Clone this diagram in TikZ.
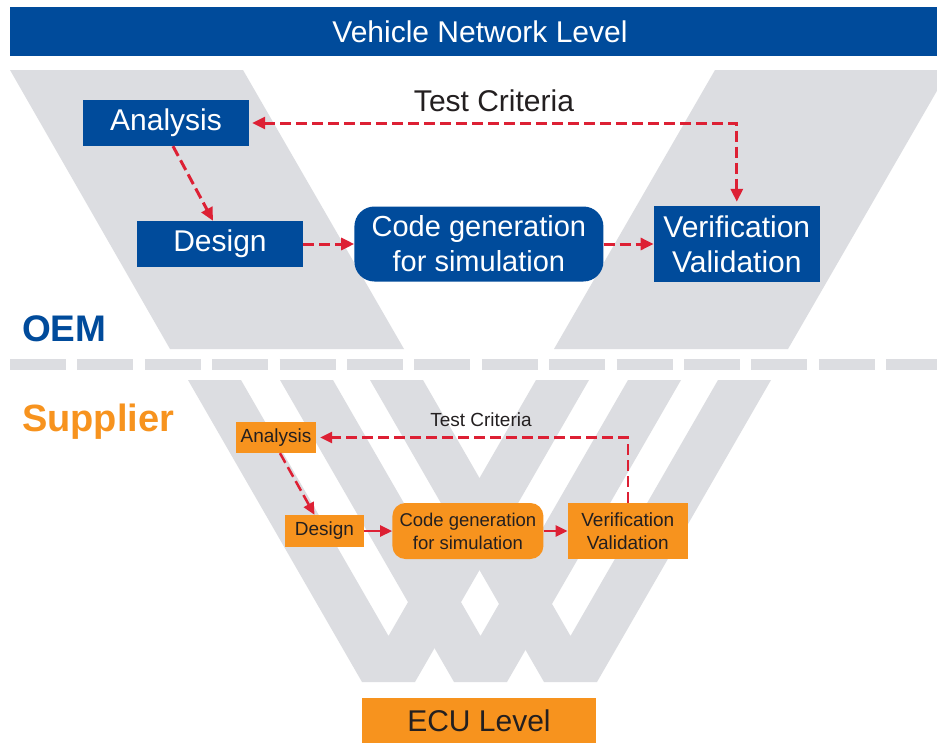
\documentclass[tikz,border=0pt]{standalone}
\usepackage{fontspec}
\setmainfont{Liberation Sans}
\usetikzlibrary{positioning,arrows.meta}
\definecolor{oemblue}{RGB}{0,75,155}
\definecolor{suporange}{RGB}{247,147,30}
\definecolor{vgrey}{RGB}{220,221,225}
\definecolor{linkred}{RGB}{221,32,52}
\definecolor{darktext}{RGB}{35,31,32}

\begin{document}
\begin{tikzpicture}[x=1pt, y=-1pt]
    % Define styles
    \tikzstyle{oembox} = [rectangle, minimum width=166pt, minimum height=46pt, inner sep=0pt, align=center, fill=oemblue, text=white, font=\fontsize{30}{35}\selectfont]
    \tikzstyle{oemround} = [oembox, rounded corners=20pt, minimum width=249pt, minimum height=75pt, font=\fontsize{29}{35}\selectfont]
    \tikzstyle{supbox} = [rectangle, inner sep=0pt, align=center, fill=suporange, text=darktext, font=\fontsize{19}{23}\selectfont]
    \tikzstyle{supround} = [supbox, rounded corners=13pt, font=\fontsize{18.5}{23}\selectfont]
    \tikzstyle{dasharrow} = [draw=linkred, line width=3pt, dash pattern=on 11pt off 5pt, ->, >={Triangle[length=13pt, width=12pt]}]
    \tikzstyle{supdash} = [dasharrow, line width=2.5pt, >={Triangle[length=12pt, width=11pt]}]
    \tikzstyle{suparrow} = [draw=linkred, line width=2.5pt, ->, >={Triangle[length=12pt, width=11pt]}]

    \useasboundingbox [fill=white] (0,0) rectangle (937,744);

    % Grey V shapes
    \fill [vgrey] (10,70) -- (243,70) -- (404,349) -- (170,349) -- cycle;
    \fill [vgrey] (715,70) -- (949,70) -- (788,349) -- (554,349) -- cycle;
    \draw [vgrey, line width=11pt, dash pattern=on 56pt off 11.4pt] (10,364.5) -- (950,364.5);
    \fill [vgrey] (188,380) -- (241,380) -- (388.5,636) -- (536,380) -- (589,380) -- (415,682) -- (362,682) -- cycle;
    \fill [vgrey] (280,380) -- (333,380) -- (480.5,636) -- (628,380) -- (681,380) -- (507,682) -- (454,682) -- cycle;
    \fill [vgrey] (370,380) -- (423,380) -- (570.5,636) -- (718,380) -- (771,380) -- (597,682) -- (544,682) -- cycle;

    % Levels
    \node (vnl) [oembox, minimum width=940pt, minimum height=49pt] at (480,31.5) {Vehicle Network Level};
    \node (ecu) [supbox, minimum width=234pt, minimum height=45pt, font=\fontsize{30}{36}\selectfont] at (479,720.5) {ECU Level};
    \node (oem) [anchor=base west, inner sep=0pt, text=oemblue, font=\fontsize{37}{44}\bfseries] at (22,341) {OEM};
    \node (sup) [anchor=base west, inner sep=0pt, text=suporange, font=\fontsize{38}{44}\bfseries] at (22,431) {Supplier};

    % OEM nodes
    \node (anaT) [oembox] at (166,123) {Analysis};
    \node (desT) [oembox] at (220,244) {Design};
    \node (codeT) [oemround, right=51pt of desT] {Code generation\\for simulation};
    \node (verT) [oembox, minimum height=76pt, right=50pt of codeT] {Verification\\Validation};
    \node (tcT) [text=darktext, font=\fontsize{30}{36}\selectfont] at (494,101) {Test Criteria};

    % Supplier nodes
    \node (anaS) [supbox, minimum width=80pt, minimum height=31pt] at (276,437.5) {Analysis};
    \node (desS) [supbox, minimum width=79pt, minimum height=32pt] at (324.5,531) {Design};
    \node (codeS) [supround, minimum width=151pt, minimum height=56pt, right=28pt of desS] {Code generation\\for simulation};
    \node (verS) [supbox, minimum width=120pt, minimum height=56pt, right=24pt of codeS] {Verification\\Validation};
    \node (tcS) [text=darktext, font=\fontsize{19}{23}\selectfont] at (481,420) {Test Criteria};

    % Arrows
    \draw [dasharrow] ([xshift=7pt]anaT.south) -- ([xshift=-7pt]desT.north);
    \draw [dasharrow] (desT) -- (codeT);
    \draw [dasharrow] (codeT) -- (verT);
    \draw [dasharrow, <->, shorten <=3pt, shorten >=4pt] (anaT.east) -| (verT.north);

    \draw [supdash] ([xshift=4pt]anaS.south) -- ([xshift=-10pt]desS.north);
    \draw [suparrow] (desS) -- (codeS);
    \draw [suparrow] (codeS) -- (verS);
    \draw [supdash, shorten >=4pt] (verS.north) |- (anaS.east);
\end{tikzpicture}
\end{document}
